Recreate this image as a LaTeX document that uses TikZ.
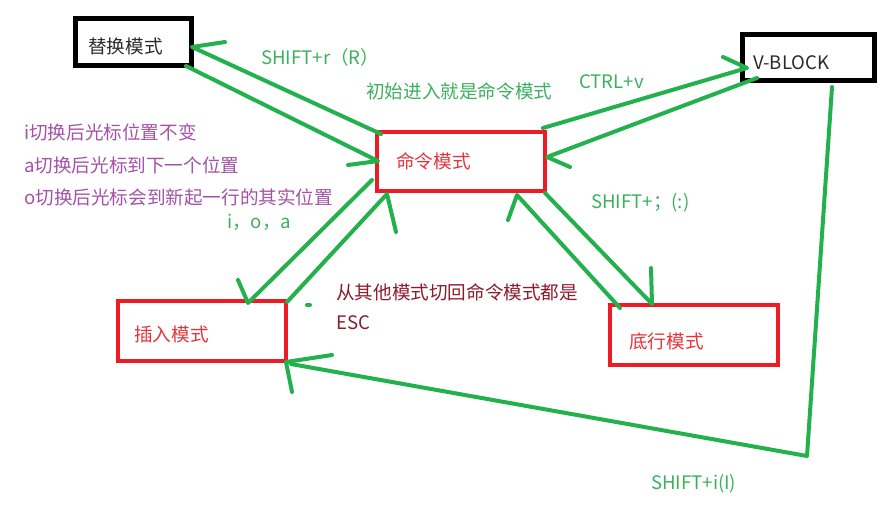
\documentclass[tikz,border=0pt]{standalone}
\usepackage{fontspec}
\setmainfont{Noto Sans CJK SC}
\definecolor{pgreen}{HTML}{22B14C}
\definecolor{tgreen}{HTML}{3CB05E}
\definecolor{tpurple}{HTML}{A452A8}
\definecolor{pred}{HTML}{ED1C24}
\definecolor{tred}{HTML}{E8333B}
\definecolor{tdred}{HTML}{8E1B2E}
\definecolor{tblack}{HTML}{2B2B2B}
\begin{document}
\begin{tikzpicture}[x=1pt,y=-1pt,
  txt/.style={font=\fontsize{18.6}{22}\selectfont,inner sep=0pt,anchor=west},
  blackbox/.style={draw=black,line width=5pt,inner sep=0pt},
  redbox/.style={draw=pred,line width=4.5pt,inner sep=0pt,minimum width=168pt,minimum height=60pt},
  garrow/.style={draw=pgreen,line width=4pt,line cap=round,line join=round},
]
\fill[white] (0,0) rectangle (882,505);
\useasboundingbox (0,0) rectangle (882,505);

% boxes
\node[blackbox,minimum width=116pt,minimum height=47pt] (rep) at (133,42.5) {};
\node[blackbox,minimum width=132pt,minimum height=46pt] (vb) at (808.5,57.5) {};
\node[redbox,minimum height=59pt] (cmd) at (461,161.5) {};
\node[redbox] (ins) at (202,331) {};
\node[redbox] (bot) at (694,335) {};

% box labels
\node[txt,text=tblack] (repT) at (88,46) {替换模式};
\node[txt,text=tblack] (vbT) at (753,63) {V-BLOCK};
\node[txt,text=tred] (cmdT) at (396,161) {命令模式};
\node[txt,text=tred] (insT) at (134,334) {插入模式};
\node[txt,text=tred] (botT) at (629,341) {底行模式};

% other labels
\node[txt,text=tgreen] (l1) at (261,57) {SHIFT+r（R）};
\node[txt,text=tgreen] (l2) at (366,91) {初始进入就是命令模式};
\node[txt,text=tgreen] (l3) at (579,82) {CTRL+v};
\node[txt,text=tgreen] (l4) at (591,203) {SHIFT+；(:)};
\node[txt,text=tgreen] (l5) at (227,222) {i，o，a};
\node[txt,text=tgreen] (l6) at (651,484) {SHIFT+i(I)};
\node[txt,text=tpurple] (p1) at (24,132) {i切换后光标位置不变};
\node[txt,text=tpurple] (p2) at (24,165) {a切换后光标到下一个位置};
\node[txt,text=tpurple] (p3) at (24,197) {o切换后光标会到新起一行的其实位置};
\node[txt,text=tdred] (d1) at (336,292) {从其他模式切回命令模式都是};
\node[txt,text=tdred] (d2) at (336,323) {ESC};

% connector end points
\coordinate (a0) at (381,134); \coordinate (a1) at (192,47); \coordinate (a2) at (225,42);
\coordinate (b0) at (186,66);  \coordinate (b1) at (378,161); \coordinate (b2) at (348,165);
\coordinate (c0) at (543,128); \coordinate (c1) at (747,68);  \coordinate (c2) at (723,57);
\coordinate (d0) at (757,78);  \coordinate (d1) at (547,157); \coordinate (d2) at (570,167);
\coordinate (e0) at (372,180); \coordinate (e1) at (248,303); \coordinate (e2) at (238,280);
\coordinate (f0) at (287,302); \coordinate (f1) at (387,194); \coordinate (f2) at (396,232);
\coordinate (g0) at (545,193); \coordinate (g1) at (652,304); \coordinate (g2) at (651,268);
\coordinate (h0) at (620,308); \coordinate (h1) at (517,195); \coordinate (h2) at (508,220);
\coordinate (i0) at (832,87);  \coordinate (i1) at (807,456); \coordinate (i2) at (291,364);
\coordinate (it) at (286,362); \coordinate (ib1) at (332,355); \coordinate (ib2) at (292,392);
\coordinate (dot0) at (307,305); \coordinate (dot1) at (310,305);

% connectors
\draw[garrow] (a0) -- (a1) -- (a2);
\draw[garrow] (b0) -- (b1) -- (b2);
\draw[garrow] (c0) -- (c1) -- (c2);
\draw[garrow] (d0) -- (d1) -- (d2);
\draw[garrow] (e0) -- (e1) -- (e2);
\draw[garrow] (f0) -- (f1) -- (f2);
\draw[garrow] (g0) -- (g1) -- (g2);
\draw[garrow] (h0) -- (h1) -- (h2);
\draw[garrow] (i0) -- (i1) -- (i2);
\draw[garrow] (ib1) -- (it) -- (ib2);
\draw[garrow] (dot0) -- (dot1);
\end{tikzpicture}
\end{document}
